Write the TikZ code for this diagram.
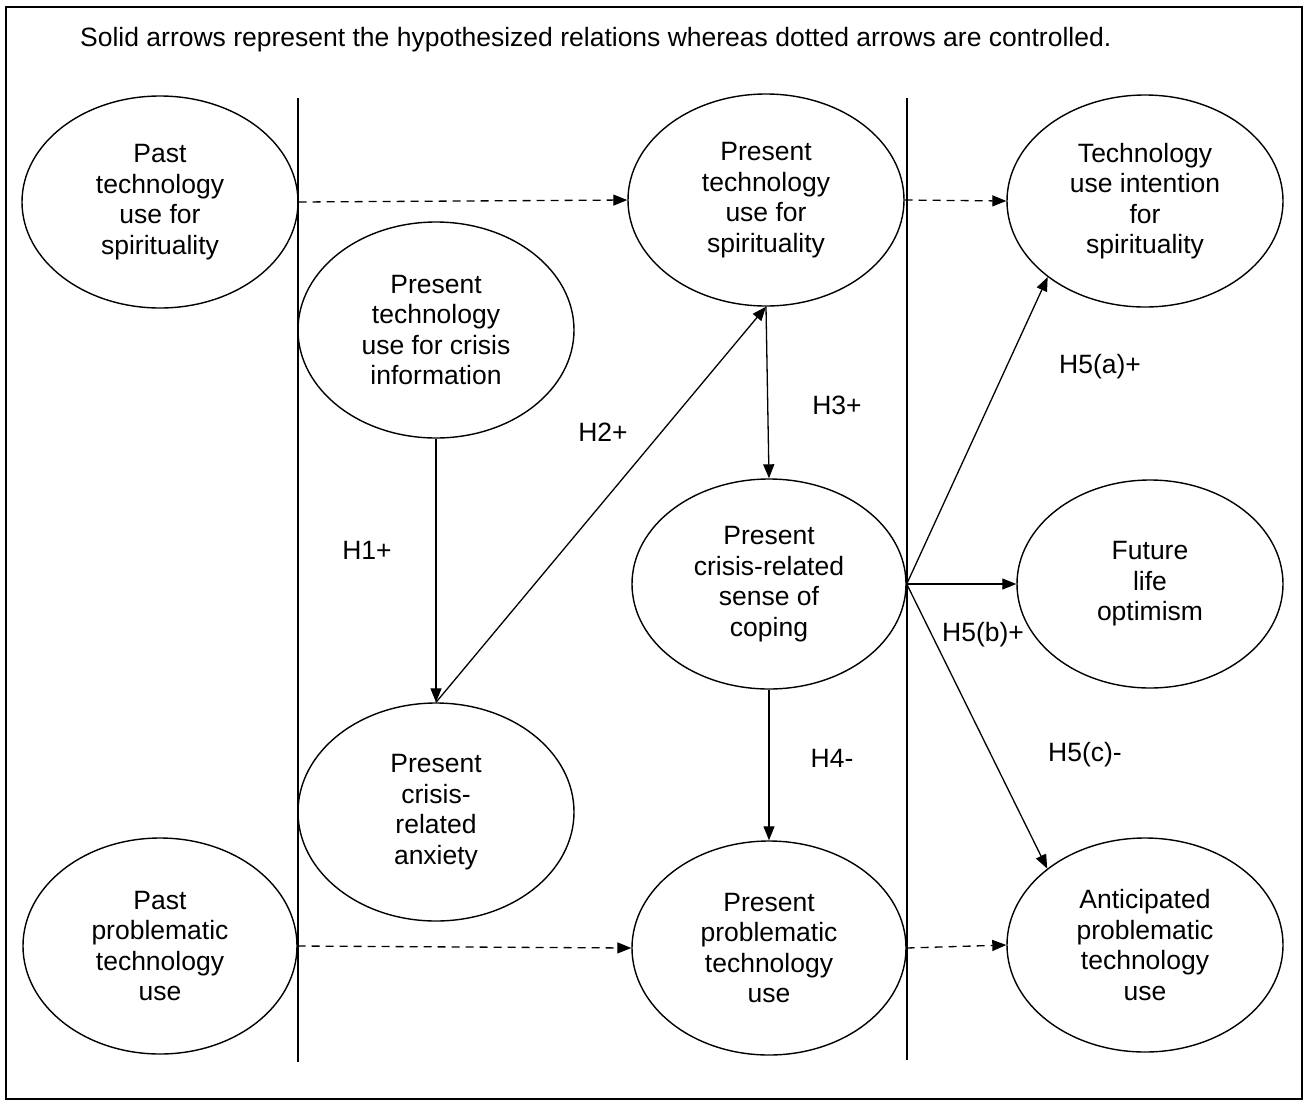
\documentclass[tikz,border=0pt]{standalone}
\usepackage{fontspec}
\setmainfont{Liberation Sans}
\usetikzlibrary{shapes.geometric,arrows.meta}
\begin{document}
\begin{tikzpicture}[x=1pt,y=-1pt,
  txt/.style={font=\fontsize{26.5}{30.5}\selectfont},
  ell/.style={draw, ellipse, line width=1.4pt, inner sep=0pt, align=center, txt,
    minimum width=276pt, minimum height=212pt},
  lbl/.style={txt, inner sep=0pt},
  hyp/.style={line width=1.3pt, -{Triangle[length=14pt,width=11pt]}},
  ctrl/.style={hyp, dash pattern=on 8pt off 6pt},
  sep/.style={line width=1.3pt}]
\useasboundingbox (0,0) rectangle (1306,1104);
\draw[line width=1.6pt] (6,7) rectangle (1302,1099);

\node[lbl, anchor=west] (title) at (80,40) {Solid arrows represent the hypothesized relations whereas dotted arrows are controlled.};

% separators
\coordinate (s1t) at (298,98);
\coordinate (s1b) at (298,1062);
\coordinate (s2t) at (907,98);
\coordinate (s2b) at (907,1060);
\draw[sep] (s1t) -- (s1b);
\draw[sep] (s2t) -- (s2b);

% constructs
\node[ell] (pts)  at (160,202) {Past\\technology\\use for\\spirituality};
\node[ell] (ptsp) at (766,200) {Present\\technology\\use for\\spirituality};
\node[ell] (tui)  at (1145,201) {Technology\\use intention\\for\\spirituality};
\node[ell, minimum height=216pt] (ptci) at (436,330) {Present\\technology\\use for crisis\\information};
\node[ell, minimum width=274pt, minimum height=210pt] (pcsc) at (769,584) {Present\\crisis-related\\sense of\\coping};
\node[ell, minimum width=266pt, minimum height=208pt] (flo) at (1150,584) {Future\\life\\optimism};
\node[ell, minimum height=218pt] (pca) at (436,812) {Present\\crisis-\\related\\anxiety};
\node[ell, minimum width=274pt, minimum height=216pt] (ppt) at (160,946) {Past\\problematic\\technology\\use};
\node[ell, minimum width=274pt, minimum height=214pt] (prpt) at (769,948) {Present\\problematic\\technology\\use};
\node[ell, minimum height=214pt] (aptu) at (1145,945) {Anticipated\\problematic\\technology\\use};

% controlled (dotted) paths
\draw[ctrl] (pts.east) -- (ptsp.west);
\draw[ctrl] (ptsp.east) -- (tui.west);
\draw[ctrl] (ppt.east) -- (prpt.west);
\draw[ctrl] (prpt.east) -- (aptu.west);

% hypothesized paths
\draw[hyp] (ptci.south) -- (pca.north);
\draw[hyp] (pca.north) -- (ptsp.south);
\draw[hyp] (ptsp.south) -- (pcsc.north);
\draw[hyp] (pcsc.south) -- (prpt.north);
\draw[hyp] (pcsc.east) -- (tui.218);
\draw[hyp] (pcsc.east) -- (flo.west);
\draw[hyp] (pcsc.east) -- (aptu.142);

% labels
\node[lbl] (h1) at (367,550) {H1+};
\node[lbl] (h2) at (603,432) {H2+};
\node[lbl] (h3) at (837,405) {H3+};
\node[lbl] (h4) at (832,758) {H4-};
\node[lbl] (h5a) at (1100,367) {H5(a)+};
\node[lbl] (h5b) at (983,635) {H5(b)+};
\node[lbl] (h5c) at (1085,755) {H5(c)-};
\end{tikzpicture}
\end{document}
